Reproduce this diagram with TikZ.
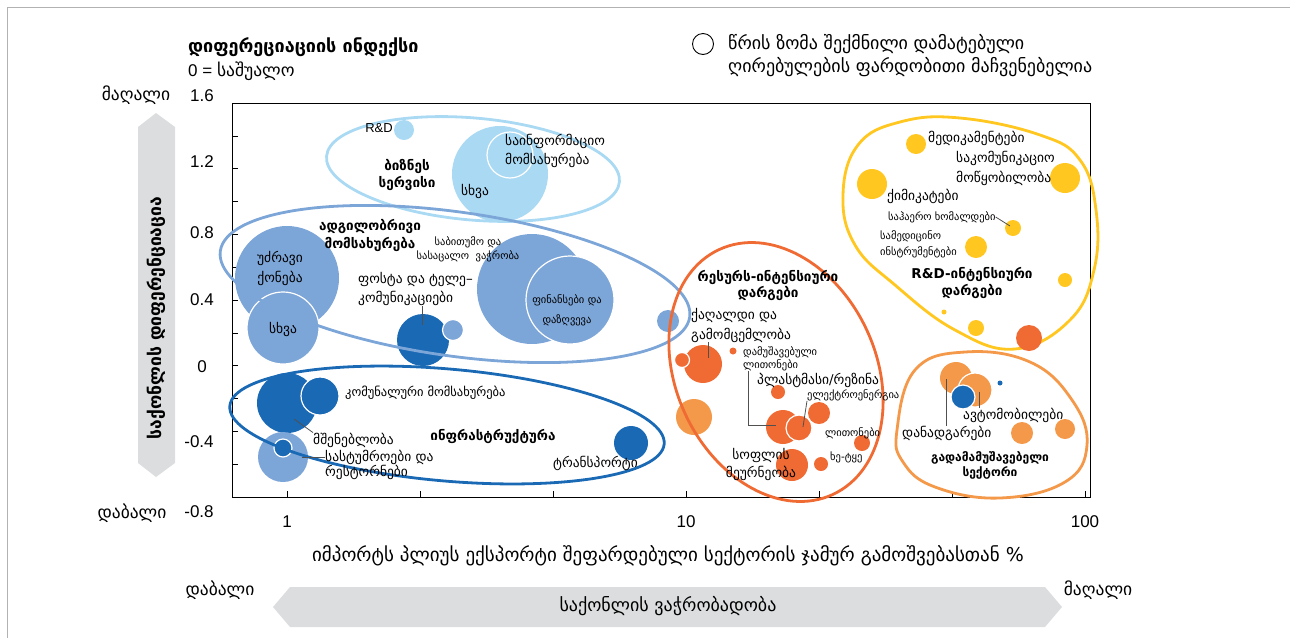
\documentclass[tikz,border=0pt]{standalone}
\usepackage{fontspec}
\setmainfont{Liberation Sans}
\newfontfamily\geo{DejaVu Sans}
\usetikzlibrary{positioning, calc}

\definecolor{lightBlue}{HTML}{A9D9F3}
\definecolor{midBlue}{HTML}{7CA5D8}
\definecolor{darkBlue}{HTML}{1A69B4}
\definecolor{redOrange}{HTML}{F06A33}
\definecolor{paleOrange}{HTML}{F4984A}
\definecolor{sunYellow}{HTML}{FFC71F}
\definecolor{arrowGray}{HTML}{DCDDDE}
\definecolor{leaderGray}{HTML}{505050}

\tikzset{
  bubble/.style = {
    circle,
    inner sep=0pt,
    minimum size=#1,
  },
  ring/.style = {
    draw=white,
    line width=1.2pt,
  },
  group/.style = {
    line width=2.8pt,
  },
  lbl/.style = {
    font=\geo\fontsize{13.5}{19}\selectfont,
    inner sep=0pt,
    align=left,
  },
  slbl/.style = {
    font=\geo\fontsize{10.5}{14}\selectfont,
    inner sep=0pt,
    align=left,
  },
  grp/.style = {
    font=\geo\bfseries\fontsize{13.5}{17}\selectfont,
    inner sep=0pt,
    align=center,
  },
  leader/.style = {
    draw=leaderGray,
    line width=0.8pt,
  },
}

\begin{document}
\begin{tikzpicture}[
  x=1pt, y=-1pt,
  num/.style = {
    font=\fontsize{17}{17}\selectfont,
    inner sep=0pt,
  },
  ends/.style = {
    font=\geo\fontsize{17.5}{17.5}\selectfont,
    inner sep=0pt,
  },
]
\useasboundingbox (0,0) rectangle (1290,638);
\draw[black!30, line width=0.8pt] (7,638) -- (7,7) -- (1290,7);

% heading and legend
\node(Index)[anchor=west, inner sep=0pt, font=\geo\bfseries\fontsize{18}{18}\selectfont] at (188,47) {დიფერეციაციის ინდექსი};
\node(Zero)[anchor=west, inner sep=0pt, font=\fontsize{17}{17}\selectfont] at (188,71) {0 = {\geo\fontsize{17.5}{17.5}\selectfont საშუალო}};
\node(LegendDot)[circle, draw, line width=0.9pt, minimum size=21pt, inner sep=0pt] at (703,44) {};
\node(Legend)[anchor=west, lbl, font=\geo\fontsize{18}{23}\selectfont] at (728,55.5) {წრის ზომა შექმნილი დამატებული\\ღირებულების ფარდობითი მაჩვენებელია};

% axes
\draw[line width=0.9pt] (232,103) rectangle (1090,497);
\foreach \k in {1,...,11}
  \draw (232,{103+\k*32.83}) -- +(6,0);
\foreach \k in {0,...,6}
  \draw ({287+\k*133},497) -- +(0,-6);

\foreach \y/\v in {96/1.6, 162/1.2, 233/0.8, 300/0.4, 367/0}
  \node[num] at (202,\y) {\v};
\node[num] at (199,442) {-0.4};
\node[num] at (199,512) {-0.8};
\node(yHigh)[ends] at (136,95) {მაღალი};
\node(yLow)[ends] at (132,513) {დაბალი};

\fill[arrowGray] (156,113) -- (175,127) -- (175,463) -- (156,477) -- (138,463) -- (138,127) -- cycle;
\node(yTitle)[rotate=90, inner sep=0pt, font=\geo\bfseries\fontsize{17.5}{17.5}\selectfont] at (156,318) {საქონლის დიფერენციაცია};

\node[num] at (287,522) {1};
\node[num] at (686,522) {10};
\node[num] at (1085,522) {100};
\node(xTitle)[inner sep=0pt, font=\geo\fontsize{19}{19}\selectfont] at (668,556) {იმპორტს პლიუს ექსპორტი შეფარდებული სექტორის ჯამურ გამოშვებასთან \%};

\fill[arrowGray] (273,607) -- (290,587) -- (1045,587) -- (1062,607) -- (1045,627) -- (290,627) -- cycle;
\node(xLab)[inner sep=0pt, font=\geo\fontsize{18}{18}\selectfont] at (668,606) {საქონლის ვაჭრობადობა};
\node(xLow)[ends] at (220,590) {დაბალი};
\node(xHigh)[ends] at (1098,590) {მაღალი};

% bubbles
\node(rd)[bubble=20pt, fill=lightBlue] at (404,130) {};
\node(bsOther)[bubble=96pt, fill=lightBlue] at (500,174) {};
\node(bsInfo)[bubble=46pt, fill=lightBlue, ring] at (510,155) {};

\node(realEst)[bubble=104pt, fill=midBlue] at (287,278) {};
\node(lsOther)[bubble=72pt, fill=midBlue, ring] at (283,328) {};
\node(post)[bubble=52pt, fill=darkBlue] at (423,340) {};
\node(lsDot)[bubble=21pt, fill=midBlue, ring] at (453,330) {};
\node(trade)[bubble=110pt, fill=midBlue] at (532,289) {};
\node(finance)[bubble=88pt, fill=midBlue, ring] at (570,300) {};
\node(lsEdge)[bubble=22pt, fill=midBlue] at (668,321) {};

\node(build)[bubble=60pt, fill=darkBlue] at (287,403) {};
\node(util)[bubble=38pt, fill=darkBlue, ring] at (320,396) {};
\node(hotel)[bubble=50pt, fill=midBlue] at (283,457) {};
\node(hotelIn)[bubble=18pt, fill=darkBlue, ring] at (283,448) {};
\node(transp)[bubble=34pt, fill=darkBlue] at (631,443) {};

\node(paper)[bubble=38pt, fill=redOrange] at (703,364) {};
\node(rsDot)[bubble=15pt, fill=redOrange, ring] at (682,360) {};
\node(metalsP)[bubble=7pt, fill=redOrange] at (733,351) {};
\node(plastic)[bubble=14pt, fill=redOrange] at (778,392) {};
\node(elec)[bubble=22pt, fill=redOrange] at (819,413) {};
\node(rsBig)[bubble=34pt, fill=redOrange] at (783,427) {};
\node(rsRing)[bubble=26pt, fill=redOrange, ring] at (799,428) {};
\node(metals)[bubble=16pt, fill=redOrange] at (862,443) {};
\node(wood)[bubble=14pt, fill=redOrange] at (821,464) {};
\node(agri)[bubble=32pt, fill=redOrange] at (792,465) {};
\node(rsPale)[bubble=36pt, fill=paleOrange] at (694,417) {};

\node(med)[bubble=20pt, fill=sunYellow] at (916,144) {};
\node(telecom)[bubble=30pt, fill=sunYellow] at (1065,178) {};
\node(chem)[bubble=30pt, fill=sunYellow] at (872,184) {};
\node(air)[bubble=16pt, fill=sunYellow] at (1013,228) {};
\node(medInst)[bubble=22pt, fill=sunYellow] at (976,247) {};
\node(rdDot)[bubble=14pt, fill=sunYellow] at (1065,280) {};
\node(rdTiny)[bubble=5pt, fill=sunYellow] at (944,312) {};
\node(rdLow)[bubble=16pt, fill=sunYellow] at (976,328) {};

\node(proc1)[bubble=32pt, fill=paleOrange] at (956,378) {};
\node(proc2)[bubble=34pt, fill=paleOrange, ring] at (975,390) {};
\node(mach)[bubble=24pt, fill=darkBlue, ring] at (963,397) {};
\node(procDot)[bubble=5pt, fill=darkBlue] at (1000,383) {};
\node(proc3)[bubble=22pt, fill=paleOrange] at (1022,433) {};
\node(proc4)[bubble=20pt, fill=paleOrange] at (1065,429) {};

% group outlines
\draw[group, lightBlue, shift={(473,169)}, rotate=-5] (0,0) ellipse [x radius=147pt, y radius=51pt];
\draw[group, midBlue, shift={(455,284)}, rotate=-8] (0,0) ellipse [x radius=237pt, y radius=72pt];
\draw[group, darkBlue, shift={(447,425)}, rotate=-5] (0,0) ellipse [x radius=218pt, y radius=56pt];
\draw[group, redOrange, shift={(776,372)}, rotate=-65] (0,0) ellipse [x radius=135pt, y radius=100pt];
\draw[group, sunYellow] plot[smooth cycle, tension=0.7] coordinates {
  (843,195) (858,145) (900,122) (960,118) (1040,135) (1080,160) (1096,210)
  (1094,270) (1070,320) (1015,349) (955,330) (895,285) (855,245)};
\draw[group, paleOrange] plot[smooth cycle, tension=0.7] coordinates {
  (897,430) (915,370) (965,352) (1030,362) (1072,400) (1087,445)
  (1065,482) (1000,498) (935,487) (903,462)};
\node(rdRed)[bubble=26pt, fill=redOrange] at (1029,338) {};

% labels
\node(rdLab)[anchor=east, inner sep=0pt, font=\fontsize{13}{13}\selectfont] at (393,128) {R\&D};
\node(bsInfoLab)[lbl, anchor=west] at (505,150.5) {საინფორმაციო\\მომსახურება};
\node(bsOtherLab)[lbl] at (475,192) {სხვა};
\node(bsGrp)[grp] at (407,175) {ბიზნეს\\სერვისი};

\node(lsGrp)[grp, font=\geo\bfseries\fontsize{13.5}{18}\selectfont] at (370,235) {ადგილობრივი\\მომსახურება};
\node(realEstLab)[lbl, align=center, font=\geo\fontsize{13.5}{20}\selectfont] at (280,268) {უძრავი\\ქონება};
\node(lsOtherLab)[lbl] at (283,330) {სხვა};
\node(tradeLab)[slbl, align=center] at (468,249.5) {საბითუმო და\\სასაცალო\ \ ვაჭრობა};
\node(postLab)[lbl, anchor=west] at (358,289.5) {ფოსტა და ტელე–\\კომუნიკაციები};
\node(financeLab)[slbl, align=center, font=\geo\fontsize{10.5}{20}\selectfont] at (567,310) {ფინანსები და\\დაზღვევა};

\node(utilLab)[lbl, anchor=west, font=\geo\fontsize{12.5}{14}\selectfont] at (345,393) {კომუნალური მომსახურება};
\node(buildLab)[lbl, anchor=west] at (313,440) {მშენებლობა};
\node(hotelLab)[lbl, anchor=west, font=\geo\fontsize{13.5}{14.5}\selectfont] at (325,465) {სასტუმროები და\\რესტორნები};
\node(infraGrp)[grp] at (493,436) {ინფრასტრუქტურა};
\node(transpLab)[lbl, anchor=west] at (553,463) {ტრანსპორტი};

\node(rsGrp)[grp, font=\geo\bfseries\fontsize{13.5}{16}\selectfont] at (768,285) {რესურს-ინტენსიური\\დარგები};
\node(paperLab)[lbl, anchor=west, font=\geo\fontsize{13.5}{20}\selectfont] at (691,325) {ქაღალდი და\\გამომცემლობა};
\node(metalsPLab)[slbl, anchor=west, font=\geo\fontsize{10.5}{12.5}\selectfont] at (743,359) {დამუშავებული\\ლითონები};
\node(plasticLab)[lbl, anchor=west] at (757,380) {პლასტმასი/რეზინა};
\node(elecLab)[slbl, anchor=west] at (807,395) {ელექტროენერგია};
\node(metalsLab)[slbl, anchor=west] at (825,433) {ლითონები};
\node(woodLab)[slbl, anchor=west] at (830,457) {ხე-ტყე};
\node(agriLab)[lbl, align=center, font=\geo\fontsize{13.5}{18}\selectfont] at (761,464) {სოფლის\\მეურნეობა};

\node(rdGrp)[grp] at (972,282.5) {R\&D-ინტენსიური\\დარგები};
\node(medLab)[lbl, anchor=west] at (928,138) {მედიკამენტები};
\node(telecomLab)[lbl, anchor=west, font=\geo\fontsize{13.5}{20}\selectfont] at (956,168) {საკომუნიკაციო\\მოწყობილობა};
\node(chemLab)[lbl, anchor=west] at (887,196) {ქიმიკატები};
\node(airLab)[slbl, anchor=west] at (888,217) {საჰაერო ხომალდები};
\node(medInstLab)[slbl, anchor=west, font=\geo\fontsize{10.5}{16}\selectfont] at (880,244) {სამედიცინო\\ინსტრუმენტები};

\node(procGrp)[grp, font=\geo\bfseries\fontsize{12}{15}\selectfont] at (990,465.5) {გადამამუშავებელი\\სექტორი};
\node(autoLab)[lbl, anchor=west] at (963,415) {ავტომობილები};
\node(machLab)[lbl, anchor=west] at (902,433) {დანადგარები};

% leader lines
\coordinate (postEnd) at (422,325);
\coordinate (buildEnd) at (294,419);
\coordinate (hotelEnd) at (302,457);
\coordinate (paperEnd) at (708,358);
\coordinate (metalsEnd) at (776,425);
\coordinate (elecEnd) at (803,427);
\coordinate (airEnd) at (1010,226);
\coordinate (machEnd) at (946,379);
\coordinate (autoEnd) at (979,392);

\draw[leader] (postLab.south -| postEnd) -- (postEnd);
\draw[leader] (buildLab.north west) -- (buildEnd);
\draw[leader] (hotelLab.west |- hotelEnd) -- (hotelEnd);
\draw[leader] (paperLab.south -| paperEnd) -- (paperEnd);
\draw[leader] ($(metalsPLab.south west)+(5,0)$) |- (metalsEnd);
\draw[leader] (elecLab.south west) -- (elecEnd);
\draw[leader] (airLab.east) -- (airEnd);
\draw[leader] (machLab.north -| machEnd) -- (machEnd);
\draw[leader] (autoLab.north -| autoEnd) -- (autoEnd);

\end{tikzpicture}
\end{document}
